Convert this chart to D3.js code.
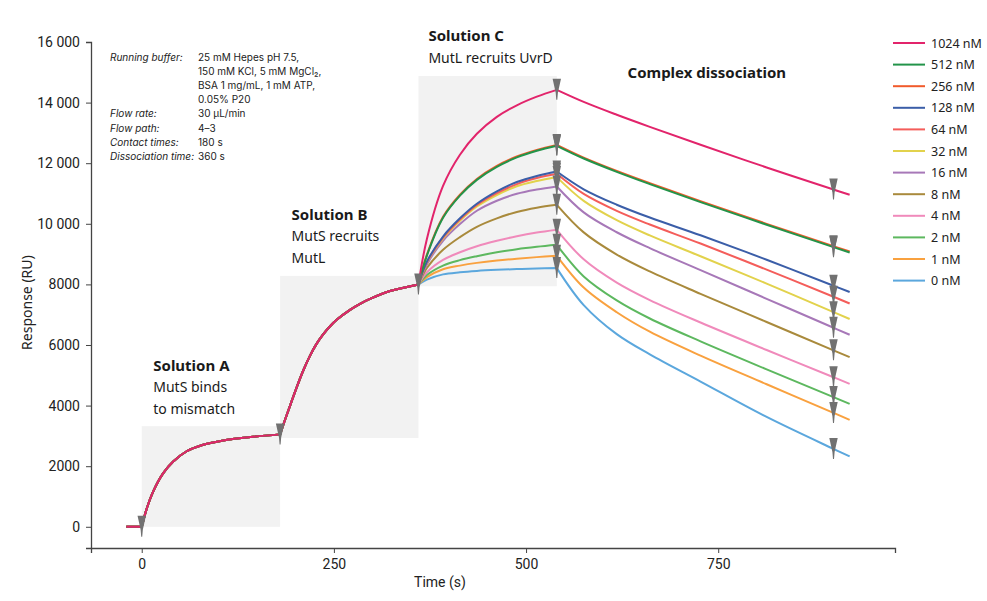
<!DOCTYPE html>
<html><head><meta charset="utf-8">
<script src="https://cdn.jsdelivr.net/npm/d3@7"></script>
<style>body{margin:0;background:#fff}svg{display:block}</style>
</head><body>
<svg id="chart" width="987" height="601"></svg>
<script>
// ---------- data ----------
const seriesNames = ["1024 nM","512 nM","256 nM","128 nM","64 nM","32 nM","16 nM","8 nM","4 nM","2 nM","1 nM","0 nM"];
const seriesColors = ["#e2246b","#23944a","#f15a2b","#3b5ea8","#f45d5a","#e2d24c","#a778b8","#a98a3c","#f08abb","#5db85f","#f9a13f","#5ba7dd"];

// phases A and B (shared by all series)
const timesAB  = [-20, 0, 6, 15, 28, 41, 58, 80, 106, 136, 180, 186, 193, 201, 210, 219, 227, 236, 245, 254, 271, 284, 297, 323, 360];
const valuesAB = [0, 0, 560, 1170, 1770, 2155, 2485, 2705, 2850, 2950, 3050, 3500, 4000, 4560, 5150, 5650, 6020, 6350, 6620, 6840, 7160, 7360, 7520, 7780, 8000];

// phase C (association of UvrD) and dissociation, per series
const timesCD = [360, 371, 392, 414, 436, 462, 488, 514, 540, 575, 618, 661, 727, 813, 900, 921];
const s1024 = [8000, 9500, 11250, 12280, 12970, 13530, 13910, 14195, 14420, 14023, 13599, 13200, 12607, 11860, 11130, 10958];
const s512  = [8000, 8950, 10200, 10930, 11450, 11880, 12190, 12410, 12574, 12154, 11715, 11311, 10717, 9969, 9229, 9055];
const s256  = [8000, 8980, 10230, 10960, 11480, 11910, 12220, 12440, 12604, 12184, 11745, 11341, 10747, 9999, 9259, 9085];
const s128  = [8000, 8750, 9580, 10180, 10660, 11070, 11380, 11580, 11726, 11139, 10630, 10206, 9620, 8814, 7955, 7748];
const s64   = [8000, 8730, 9540, 10140, 10620, 11010, 11310, 11510, 11650, 10985, 10426, 9975, 9348, 8488, 7592, 7370];
const s32   = [8000, 8720, 9510, 10100, 10570, 10950, 11240, 11410, 11541, 10756, 10120, 9616, 8929, 8025, 7084, 6857];
const s16   = [8000, 8660, 9440, 9990, 10430, 10760, 10990, 11130, 11231, 10377, 9721, 9196, 8471, 7524, 6568, 6337];
const s8    = [8000, 8540, 9140, 9560, 9900, 10180, 10390, 10530, 10627, 9717, 8986, 8427, 7688, 6759, 5824, 5601];
const s4    = [8000, 8400, 8810, 9060, 9260, 9440, 9590, 9710, 9802, 8828, 8059, 7482, 6741, 5835, 4936, 4719];
const s2    = [8000, 8310, 8620, 8800, 8930, 9060, 9160, 9240, 9307, 8263, 7472, 6874, 6120, 5197, 4281, 4059];
const s1    = [8000, 8240, 8500, 8620, 8710, 8790, 8850, 8900, 8944, 7896, 7081, 6438, 5648, 4704, 3758, 3530];
const s0    = [8000, 8160, 8330, 8400, 8445, 8480, 8505, 8525, 8538, 7316, 6357, 5690, 4794, 3626, 2571, 2323];
const seriesCD = [s1024, s512, s256, s128, s64, s32, s16, s8, s4, s2, s1, s0];

const xTicks = [0, 250, 500, 750];
const yTicks = [0, 2000, 4000, 6000, 8000, 10000, 12000, 14000, 16000];
const yTickLabels = ["0","2000","4000","6000","8000","10 000","12 000","14 000","16 000"];

const phaseBoundaries = [0, 180, 360, 540];
const sharedMarkerTimes = [0, 180, 360];
const seriesMarkerTimes = [540, 900];

// shaded injection windows: [t0, t1, ruLow, ruHigh]
const boxA = [0, 180, 0, 3320];
const boxB = [180, 360, 2930, 8280];
const boxC = [360, 540, 7940, 14880];

const phaseLabels = [
  {t: 15, ru: 5150, lines: ["Solution A", "MutS binds", "to mismatch"]},
  {t: 195, ru: 10130, lines: ["Solution B", "MutS recruits", "MutL"]},
  {t: 373, ru: 16030, lines: ["Solution C", "MutL recruits UvrD"]},
  {t: 632, ru: 14800, lines: ["Complex dissociation"]}
];

const infoLabels = ["Running buffer:", "", "", "", "Flow rate:", "Flow path:", "Contact times:", "Dissociation time:"];
const infoValues = ["25 mM Hepes pH 7.5,", "150 mM KCl, 5 mM MgCl\u2082,", "BSA 1 mg/mL, 1 mM ATP,", "0.05% P20", "30 \u00b5L/min", "4\u20133", "180 s", "360 s"];

// ---------- chart ----------
const svg = d3.select("#chart");
const x = d3.scaleLinear().domain([-66, 980]).range([91, 895]);
const y = d3.scaleLinear().domain([-700, 16000]).range([548, 42]);
const font = "'Noto Sans', 'Open Sans', sans-serif";

// shaded boxes
[boxA, boxB, boxC].forEach(b => {
  svg.append("rect")
    .attr("x", x(b[0])).attr("width", x(b[1]) - x(b[0]))
    .attr("y", y(b[3])).attr("height", y(b[2]) - y(b[3]))
    .attr("fill", "#f2f2f2");
});

// axes
const yAxis = svg.append("g").attr("transform", `translate(${x(-66)},0)`)
  .call(d3.axisLeft(y).tickValues(yTicks).tickFormat((d, i) => yTickLabels[i]).tickSizeOuter(0).tickSize(5).tickPadding(6));
const xAxis = svg.append("g").attr("transform", `translate(0,${y(-700)})`)
  .call(d3.axisBottom(x).tickValues(xTicks).tickFormat(d3.format("d")).tickSizeOuter(0).tickSize(5).tickPadding(6));
[yAxis, xAxis].forEach(g => {
  g.select(".domain").attr("stroke", "#444").attr("stroke-width", 1.3);
  g.selectAll(".tick line").attr("stroke", "#444");
  g.selectAll(".tick text").attr("fill", "#222").style("font-family", "Roboto, sans-serif").style("font-size", "14px");
});

svg.append("text").attr("x", x(388)).attr("y", 587).attr("text-anchor", "middle")
  .style("font-family", "Roboto, sans-serif").style("font-size", "14px").attr("fill", "#222").text("Time (s)");
svg.append("text").attr("transform", `translate(32,${y(7400)}) rotate(-90)`).attr("text-anchor", "middle")
  .style("font-family", font).style("font-size", "14px").attr("fill", "#222").text("Response (RU)");

// lines
const line = d3.line().x(d => x(d[0])).y(d => y(d[1])).curve(d3.curveCatmullRom.alpha(0.5));
function segments(pts) {
  const segs = [];
  let cur = [];
  pts.forEach(p => {
    cur.push(p);
    if (phaseBoundaries.includes(p[0]) && cur.length > 1) { segs.push(cur); cur = [p]; }
  });
  if (cur.length > 1) segs.push(cur);
  return segs;
}
const order = d3.range(seriesNames.length).reverse();
order.forEach(i => {
  const pts = timesAB.map((t, k) => [t, valuesAB[k]])
    .concat(timesCD.slice(1).map((t, k) => [t, seriesCD[i][k + 1]]));
  const d = segments(pts).map(s => line(s)).join("");
  svg.append("path").attr("d", d).attr("fill", "none")
    .attr("stroke", seriesColors[i]).attr("stroke-width", 2).attr("stroke-linejoin", "round");
});

// injection markers
const markerPath = "M-4.2,-11 L4.2,-11 L1.1,3 L0.5,10 L-0.5,10 L-1.1,3 Z";
function marker(t, v) {
  svg.append("path").attr("d", markerPath)
    .attr("transform", `translate(${x(t)},${y(v)})`).attr("fill", "#717171");
}
sharedMarkerTimes.forEach(t => marker(t, valuesAB[timesAB.indexOf(t)]));
order.forEach(i => seriesMarkerTimes.forEach(t => {
  const k = timesCD.indexOf(t);
  if (k >= 0) marker(t, seriesCD[i][k]);
}));

// phase labels
phaseLabels.forEach(p => {
  const g = svg.append("text").attr("x", x(p.t)).attr("y", y(p.ru))
    .style("font-family", font).attr("fill", "#1a1a1a");
  p.lines.forEach((s, k) => {
    g.append("tspan").attr("x", x(p.t)).attr("dy", k === 0 ? 0 : 21.5)
      .style("font-size", k === 0 ? "15px" : "14px").style("font-weight", k === 0 ? "bold" : "normal").text(s);
  });
});

// info block
infoLabels.forEach((s, k) => {
  const yy = 61 + k * 14.1;
  svg.append("text").attr("x", 110).attr("y", yy).style("font-family", "Inter, sans-serif").style("font-size", "10px")
    .style("font-style", "italic").attr("fill", "#222").text(s);
  svg.append("text").attr("x", 198).attr("y", yy).style("font-family", "Inter, sans-serif").style("font-size", "10px")
    .attr("fill", "#222").text(infoValues[k]);
});

// legend
seriesNames.forEach((n, i) => {
  const yy = 43 + i * 21.6;
  svg.append("line").attr("x1", 893).attr("x2", 925).attr("y1", yy).attr("y2", yy)
    .attr("stroke", seriesColors[i]).attr("stroke-width", 2);
  svg.append("text").attr("x", 931).attr("y", yy + 4.5).style("font-family", font).style("font-size", "12.5px")
    .attr("fill", "#222").text(n);
});
</script>
</body></html>
